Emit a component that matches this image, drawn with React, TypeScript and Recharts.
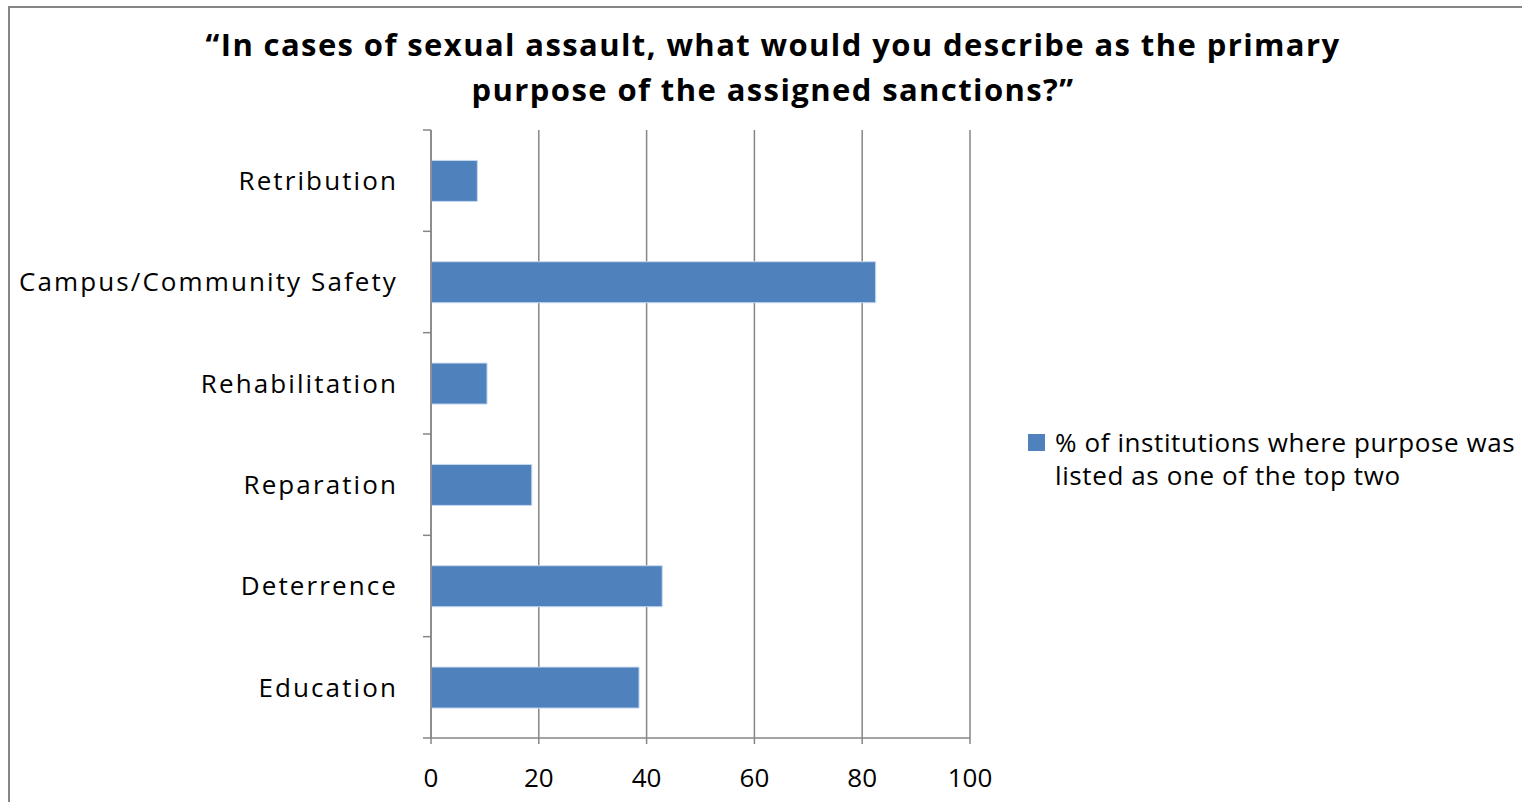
import { BarChart, Bar, XAxis, YAxis, CartesianGrid } from "recharts";

// --- Data ---

const categories = [
  "Retribution",
  "Campus/Community Safety",
  "Rehabilitation",
  "Reparation",
  "Deterrence",
  "Education",
];

const percentTopTwo = [8.6, 82.5, 10.4, 18.7, 42.9, 38.6];

const xTicks = [0, 20, 40, 60, 80, 100];

const seriesName = "% of institutions where purpose was listed as one of the top two";

const titleLines = [
  "\u201cIn cases of sexual assault, what would you describe as the primary",
  "purpose of the assigned sanctions?\u201d",
];

const data = categories.map((name, i) => ({ name, value: percentTopTwo[i] }));

// --- Layout ---

const W = 1522;
const H = 802;
const PLOT_LEFT = 431;
const PLOT_TOP = 130;
const PLOT_RIGHT = 970;
const PLOT_BOTTOM = 738;
const BAND = (PLOT_BOTTOM - PLOT_TOP) / categories.length;
const FONT = "'Open Sans', 'DejaVu Sans', sans-serif";
const AXIS_GRAY = "#868686";
const BAR_BLUE = "#4F81BD";

function CategoryTick(props: any) {
  const { x, y, payload, index } = props;
  return (
    <g>
      <line x1={PLOT_LEFT - 8} x2={PLOT_LEFT} y1={y - BAND / 2} y2={y - BAND / 2} stroke={AXIS_GRAY} strokeWidth={1.5} />
      {index === categories.length - 1 && (
        <line x1={PLOT_LEFT - 8} x2={PLOT_LEFT} y1={y + BAND / 2} y2={y + BAND / 2} stroke={AXIS_GRAY} strokeWidth={1.5} />
      )}
      <text
        x={x}
        y={y}
        dy="0.36em"
        textAnchor="end"
        fill="#000"
        fontSize={26}
        fontFamily={FONT}
        style={{ letterSpacing: "2.1px" }}
      >
        {payload.value}
      </text>
    </g>
  );
}

export default function App() {
  return (
    <div style={{ position: "fixed", left: 0, top: 0, width: W, height: H, background: "#fff", overflow: "hidden" }}>
      <div
        style={{
          position: "absolute",
          left: 8,
          top: 6,
          width: W + 20,
          height: H + 20,
          border: `2px solid ${AXIS_GRAY}`,
          boxSizing: "border-box",
        }}
      />
      <div style={{ position: "absolute", left: 0, top: 0 }}>
        <BarChart
          width={W}
          height={H}
          data={data}
          layout="vertical"
          barCategoryGap="30%"
          margin={{ top: PLOT_TOP, right: W - PLOT_RIGHT, left: 8, bottom: 0 }}
        >
          <CartesianGrid horizontal={false} stroke={AXIS_GRAY} strokeWidth={1.5} />
          <XAxis
            type="number"
            domain={[0, 100]}
            ticks={xTicks}
            height={H - PLOT_BOTTOM}
            stroke={AXIS_GRAY}
            strokeWidth={1.5}
            tickSize={6}
            tickMargin={25}
            tick={{ fill: "#000", fontSize: 26, fontFamily: FONT }}
          />
          <YAxis
            type="category"
            dataKey="name"
            width={PLOT_LEFT - 8}
            stroke={AXIS_GRAY}
            strokeWidth={1.5}
            tickLine={false}
            tickSize={0}
            tickMargin={33}
            tick={<CategoryTick />}
            interval={0}
          />
          <Bar
            dataKey="value"
            name={seriesName}
            fill={BAR_BLUE}
            stroke="#c6d9f1"
            strokeWidth={1}
            isAnimationActive={false}
          />
        </BarChart>
      </div>
      <div
        style={{
          position: "absolute",
          left: 0,
          top: 22,
          width: 1546,
          textAlign: "center",
          fontFamily: FONT,
          fontWeight: 700,
          fontSize: 31,
          lineHeight: "45px",
          letterSpacing: "1.4px",
          color: "#000",
        }}
      >
        {titleLines.map((t) => (
          <div key={t}>{t}</div>
        ))}
      </div>
      <div
        style={{
          position: "absolute",
          left: 1028,
          top: 426,
          display: "flex",
          alignItems: "flex-start",
          fontFamily: FONT,
          fontSize: 26,
          lineHeight: "33px",
          letterSpacing: "0.6px",
          color: "#000",
        }}
      >
        <div style={{ width: 17, height: 17, background: BAR_BLUE, marginTop: 8, marginRight: 10, flexShrink: 0 }} />
        <div style={{ width: 480 }}>{seriesName}</div>
      </div>
    </div>
  );
}
